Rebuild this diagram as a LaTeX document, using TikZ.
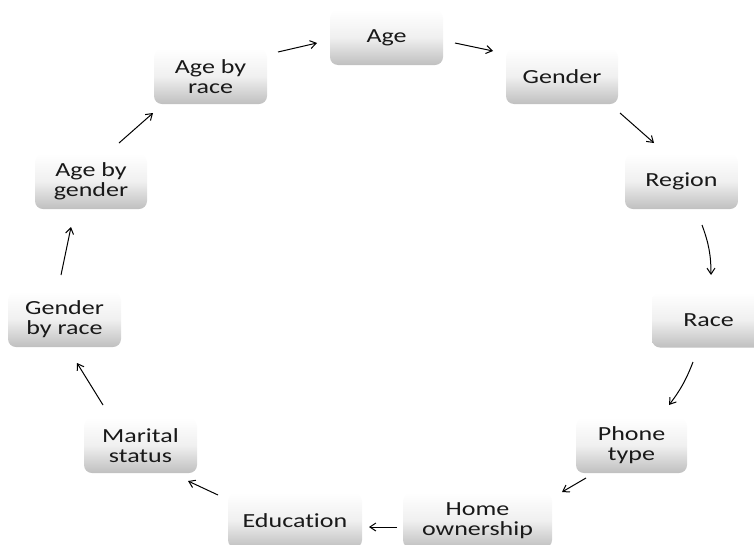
\documentclass[tikz,border=0pt]{standalone}
\usepackage{fontspec}
\newfontfamily\boxfont{Carlito}[FakeStretch=1.3,Ligatures=NoCommon]
\usetikzlibrary{arrows.meta,shadings}
\tikzset{
  box/.style={rounded corners=8pt, top color=white, bottom color=black!25,
    middle color=black!6, minimum height=55pt, inner sep=2pt,
    align=center, font=\boxfont\fontsize{20}{20}\selectfont, text=black!90},
  arr/.style={-{Straight Barb[length=6pt,width=8pt]}, line width=1pt, black}
}
\begin{document}
\begin{tikzpicture}[x=1pt,y=-1pt]
\useasboundingbox (0,0) rectangle (754,544);
\clip (0,0) rectangle (754,544);
\node[box, minimum width=113pt] (age) at (386.5,37.5) {Age};
\node[box, minimum width=113pt] (ageRace) at (210.5,76.5) {Age by\\race};
\node[box, minimum width=112pt] (gender) at (562,76.5) {Gender};
\node[box, minimum width=113pt] (region) at (681.5,181.5) {Region};
\node[box, minimum width=113pt] (race) at (708.5,320) {Race};
\node[box, minimum width=111pt] (phone) at (631.5,445.5) {Phone\\type};
\node[box, minimum width=149pt] (home) at (477.5,520.5) {Home\\ownership};
\node[box, minimum width=134pt] (edu) at (295,520.5) {Education};
\node[box, minimum width=113pt] (marital) at (140.5,445.5) {Marital\\status};
\node[box, minimum width=113pt] (genderRace) at (64.5,319.5) {Gender\\by race};
\node[box, minimum width=112pt] (ageGender) at (91,181.5) {Age by\\gender};

\draw[arr] ([shift={(67.5,-24.5)}]ageRace.center) -- ([shift={(-69.5,5.5)}]age.center);
\draw[arr] ([shift={(68.5,5.5)}]age.center) -- ([shift={(-69,-25.5)}]gender.center);
\draw[arr] ([shift={(58,36.5)}]gender.center) -- ([shift={(-27.5,-38.5)}]region.center);
\draw[arr] ([shift={(20.5,43.5)}]region.center) to[bend left=10] ([shift={(2.5,-45)}]race.center);
\draw[arr] ([shift={(-15.5,42)}]race.center) to[bend left=8] ([shift={(37.5,-40.5)}]phone.center);
\draw[arr] ([shift={(-45.5,32.5)}]phone.center) -- ([shift={(84.5,-28.5)}]home.center);
\draw[arr] ([shift={(-80.5,6.5)}]home.center) -- ([shift={(74,6.5)}]edu.center);
\draw[arr] ([shift={(-77,-25.5)}]edu.center) -- ([shift={(47.5,35.5)}]marital.center);
\draw[arr] ([shift={(-37.5,-40.5)}]marital.center) -- ([shift={(12.5,43.5)}]genderRace.center);
\draw[arr] ([shift={(-3.5,-44.5)}]genderRace.center) -- ([shift={(-20,45.5)}]ageGender.center);
\draw[arr] ([shift={(28,-38.5)}]ageGender.center) -- ([shift={(-57.5,36.5)}]ageRace.center);
\end{tikzpicture}
\end{document}
